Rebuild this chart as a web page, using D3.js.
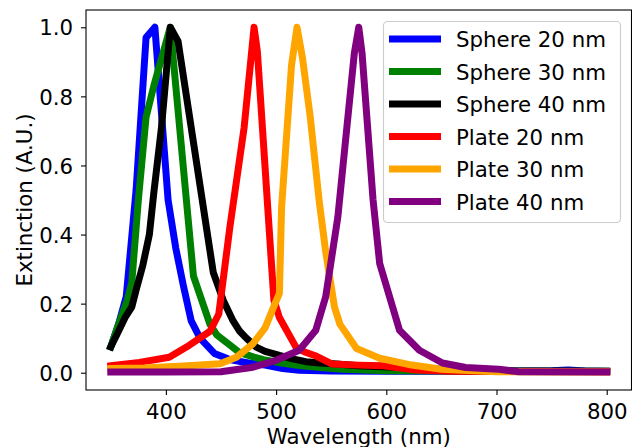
<!DOCTYPE html>
<html>
<head>
<meta charset="utf-8">
<script src="https://cdn.jsdelivr.net/npm/d3@7"></script>
<style>
  body { margin: 0; background: #fff; }
  svg { display: block; font-family: "DejaVu Sans", sans-serif; }
</style>
</head>
<body>
<div id="chart"></div>
<script>
// spectra: [wavelength (nm), extinction]
const sphere20 = [[350,0.075],[357,0.14],[364,0.22],[373,0.53],[382,0.97],[390,1.0],[402,0.5],[409,0.36],[416,0.25],[423,0.15],[431,0.1],[444,0.056],[458,0.038],[475,0.028],[490,0.022],[506,0.012],[521,0.007],[550,0.005],[600,0.004],[700,0.004],[750,0.006],[765,0.008],[780,0.005],[800,0.004]];
const sphere30 = [[350,0.075],[357,0.14],[365,0.21],[369,0.26],[375,0.5],[382,0.74],[389,0.83],[404,1.0],[425,0.28],[440,0.14],[446,0.11],[458,0.08],[467,0.058],[480,0.045],[491,0.036],[505,0.028],[521,0.021],[540,0.015],[560,0.01],[600,0.006],[700,0.004],[800,0.004]];
const sphere40 = [[350,0.075],[357,0.12],[363,0.16],[369,0.19],[373,0.24],[379,0.31],[385,0.4],[389,0.52],[396,0.71],[404,1.0],[411,0.96],[443,0.29],[452,0.21],[461,0.15],[467,0.12],[473,0.1],[482,0.074],[490,0.062],[503,0.05],[515,0.04],[527,0.032],[540,0.028],[555,0.025],[575,0.02],[612,0.015],[650,0.01],[672,0.007],[720,0.005],[800,0.004]];
const plate20 = [[350,0.02],[376,0.03],[403,0.045],[421,0.079],[440,0.12],[448,0.17],[458,0.42],[471,0.71],[480,1.0],[483,0.93],[498,0.21],[503,0.16],[518,0.074],[526,0.06],[535,0.05],[551,0.025],[575,0.022],[597,0.02],[627,0.008],[660,0.004],[800,0.003]];
const plate30 = [[350,0.012],[380,0.014],[420,0.02],[449,0.026],[464,0.045],[479,0.084],[490,0.13],[499,0.2],[503,0.23],[505,0.48],[514,0.89],[519,1.0],[524,0.91],[531,0.74],[539,0.5],[545,0.35],[553,0.19],[558,0.14],[573,0.07],[594,0.042],[620,0.024],[650,0.01],[700,0.003],[800,0.002]];
const plate40 = [[350,0.002],[400,0.002],[450,0.003],[479,0.016],[500,0.036],[521,0.065],[536,0.123],[545,0.22],[556,0.45],[571,0.925],[575,1.0],[578,0.925],[588,0.5],[594,0.316],[612,0.123],[630,0.065],[651,0.028],[672,0.015],[702,0.01],[720,0.003],[800,0.002]];

const seriesNames = ['Sphere 20 nm', 'Sphere 30 nm', 'Sphere 40 nm', 'Plate 20 nm', 'Plate 30 nm', 'Plate 40 nm'];
const seriesColors = ['#0000ff', '#008000', '#000000', '#ff0000', '#ffa500', '#800080'];
const seriesData = [sphere20, sphere30, sphere40, plate20, plate30, plate40];
const xTicks = [400, 500, 600, 700, 800];
const yTicks = [0, 0.2, 0.4, 0.6, 0.8, 1.0];

const width = 632;
const height = 447;
const margin = { top: 10, right: 0.5, bottom: 57, left: 86 };
const fontSize = 21.3;
const lineWidth = 7;

const svg = d3
  .select('#chart')
  .append('svg')
  .attr('width', width)
  .attr('height', height);

const x = d3
  .scaleLinear()
  .domain([327.5, 822.5])
  .range([margin.left, width - margin.right]);

const y = d3
  .scaleLinear()
  .domain([-0.05, 1.05])
  .range([height - margin.bottom, margin.top]);

svg
  .append('clipPath')
  .attr('id', 'plot-clip')
  .append('rect')
  .attr('x', margin.left)
  .attr('y', margin.top)
  .attr('width', width - margin.right - margin.left)
  .attr('height', height - margin.bottom - margin.top);

// courbes
const line = d3
  .line()
  .x((d) => x(d[0]))
  .y((d) => y(d[1]));

svg
  .append('g')
  .attr('clip-path', 'url(#plot-clip)')
  .selectAll('path')
  .data(seriesData)
  .enter()
  .append('path')
  .attr('d', (d) => line(d))
  .attr('fill', 'none')
  .attr('stroke', (d, i) => seriesColors[i])
  .attr('stroke-width', lineWidth)
  .attr('stroke-linejoin', 'round')
  .attr('stroke-linecap', 'square');

// axes
const xAxis = svg
  .append('g')
  .attr('transform', `translate(0,${height - margin.bottom})`)
  .call(d3.axisBottom(x).tickValues(xTicks).tickSize(5).tickPadding(9).tickFormat(d3.format('d')));

const yAxis = svg
  .append('g')
  .attr('transform', `translate(${margin.left},0)`)
  .call(d3.axisLeft(y).tickValues(yTicks).tickSize(5).tickPadding(8).tickFormat(d3.format('.1f')));

[xAxis, yAxis].forEach((g) => {
  g.select('.domain').remove();
  g.selectAll('.tick line').attr('stroke', '#000').attr('stroke-width', 1.1);
  g.selectAll('.tick text')
    .attr('fill', '#000')
    .style('font-size', `${fontSize}px`)
    .style('font-family', '"DejaVu Sans", sans-serif');
});
yAxis.selectAll('.tick text').attr('dy', '0.36em');
xAxis.selectAll('.tick text').attr('dy', '0.71em');

// cadre
svg
  .append('rect')
  .attr('x', margin.left)
  .attr('y', margin.top)
  .attr('width', width - margin.right - margin.left)
  .attr('height', height - margin.bottom - margin.top)
  .attr('fill', 'none')
  .attr('stroke', '#000')
  .attr('stroke-width', 1.1);

// titres des axes
svg
  .append('text')
  .attr('x', (margin.left + width - margin.right) / 2)
  .attr('y', 443.5)
  .attr('text-anchor', 'middle')
  .style('font-size', `${fontSize}px`)
  .text('Wavelength (nm)');

svg
  .append('text')
  .attr('transform', `translate(31.5,${(margin.top + height - margin.bottom) / 2}) rotate(-90)`)
  .attr('text-anchor', 'middle')
  .style('font-size', `${fontSize}px`)
  .text('Extinction (A.U.)');

// légende
const legend = svg.append('g');
legend
  .append('rect')
  .attr('x', 383.5)
  .attr('y', 21.5)
  .attr('width', 237)
  .attr('height', 201)
  .attr('rx', 4)
  .attr('fill', '#fff')
  .attr('fill-opacity', 0.8)
  .attr('stroke', '#cccccc')
  .attr('stroke-width', 1.1);

const rows = legend
  .selectAll('.row')
  .data(seriesNames)
  .enter()
  .append('g')
  .attr('class', 'row')
  .attr('transform', (d, i) => `translate(0,${39 + i * 32.5})`);

rows
  .append('line')
  .attr('x1', 392.5)
  .attr('x2', 437.5)
  .attr('stroke', (d, i) => seriesColors[i])
  .attr('stroke-width', lineWidth)
  .attr('stroke-linecap', 'square');

rows
  .append('text')
  .attr('x', 456)
  .attr('y', 8)
  .style('font-size', `${fontSize}px`)
  .text((d) => d);
</script>
</body>
</html>
